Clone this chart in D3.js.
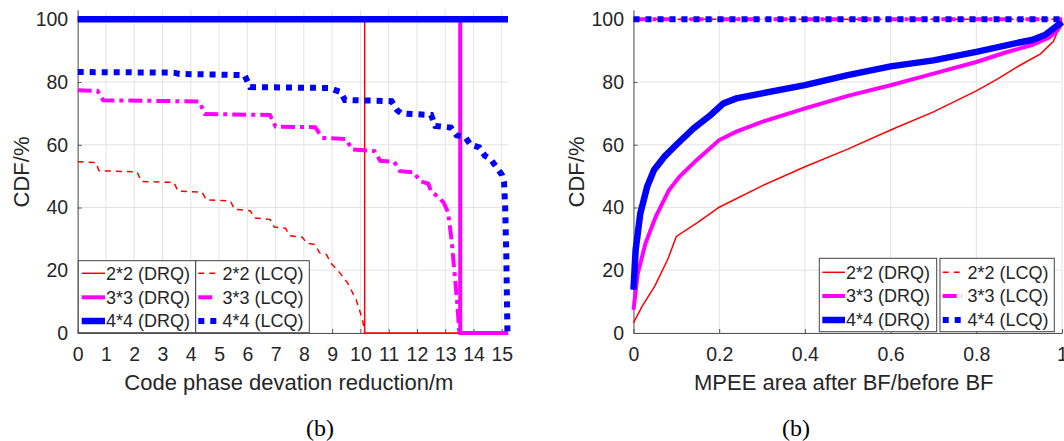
<!DOCTYPE html>
<html>
<head>
<meta charset="utf-8">
<script src="https://cdn.jsdelivr.net/npm/d3@7"></script>
<style>
  body { margin: 0; background: #fff; }
  svg { display: block; }
  text { font-family: "Liberation Sans", Arial, sans-serif; fill: #262626; }
</style>
</head>
<body>
<div id="chart"></div>
<script>
const W = 1064, H = 441;

// shared
const yTicks = [0, 20, 40, 60, 80, 100];
const legendLabels = ["2*2 (DRQ)", "3*3 (DRQ)", "4*4 (DRQ)", "2*2 (LCQ)", "3*3 (LCQ)", "4*4 (LCQ)"];

// left panel: code phase deviation reduction
const leftXTicks = [0, 1, 2, 3, 4, 5, 6, 7, 8, 9, 10, 11, 12, 13, 14, 15];
const cpDrq22X = [0, 10.15, 10.15, 15.22];
const cpDrq22Y = [100, 100, 0, 0];
const cpDrq33X = [0, 13.53, 13.53, 15.22];
const cpDrq33Y = [100, 100, 0, 0];
const cpDrq44X = [0, 15.22];
const cpDrq44Y = [100, 100];
const cpLcq22X = [0, 0.65, 0.75, 2.1, 2.25, 3.4, 3.55, 4.4, 4.55, 5.4, 5.55, 6.1, 6.25, 6.8, 6.95, 7.35, 7.5, 7.95, 8.1, 8.4, 8.55, 8.8, 8.95, 9.2, 9.55, 9.85, 10.0, 10.1, 10.15];
const cpLcq22Y = [54.6, 54.3, 51.7, 51.4, 48.3, 48.0, 45.2, 44.9, 42.4, 42.1, 39.4, 39.0, 36.7, 36.2, 33.8, 33.4, 31.0, 30.5, 28.6, 28.2, 25.6, 25.0, 22.3, 20.0, 15.9, 10.6, 6.4, 3, 0];
const cpLcq33X = [0, 0.7, 0.9, 4.3, 4.5, 6.8, 7.0, 8.4, 8.65, 9.5, 9.7, 10.5, 10.7, 11.2, 11.4, 11.9, 12.1, 12.4, 12.5, 12.8, 12.95, 13.1, 13.22, 13.32, 13.42, 13.5];
const cpLcq33Y = [77.4, 77.2, 74.2, 73.8, 69.8, 69.5, 65.8, 65.6, 62.2, 61.8, 58.5, 58.0, 54.9, 54.5, 51.6, 51.2, 48.4, 47.6, 45.2, 43.0, 41.5, 38.5, 30, 20, 10, 0];
const cpLcq44X = [0, 3.4, 3.6, 5.9, 6.1, 8.9, 9.3, 9.45, 11.1, 11.3, 11.45, 12.5, 12.65, 13.2, 13.4, 13.7, 13.9, 14.2, 14.4, 14.6, 14.8, 15.0, 15.08, 15.12, 15.16, 15.2];
const cpLcq44Y = [83.2, 83.0, 82.6, 82.2, 78.4, 78.1, 76.8, 74.3, 73.9, 71.0, 70.0, 69.5, 66.0, 65.5, 63.0, 62.5, 60.0, 59.2, 56.5, 55.5, 53.0, 50.5, 48.0, 40, 25, 0];

// right panel: MPEE area ratio
const rightXTicks = [0, 0.2, 0.4, 0.6, 0.8, 1];
const mpDrq22X = [0, 0.02, 0.05, 0.08, 0.1, 0.15, 0.2, 0.3, 0.4, 0.5, 0.6, 0.7, 0.8, 0.85, 0.9, 0.95, 0.98, 1.0];
const mpDrq22Y = [3.2, 8.5, 15, 23.5, 30.8, 35.3, 40.1, 46.9, 53, 58.6, 64.7, 70.5, 77.2, 81, 85.2, 89, 93, 99.5];
const mpDrq33X = [0, 0.01, 0.028, 0.052, 0.083, 0.107, 0.147, 0.2, 0.24, 0.3, 0.4, 0.5, 0.6, 0.7, 0.8, 0.87, 0.93, 0.97, 0.99, 1.0];
const mpDrq33Y = [7.4, 19, 28.6, 37.1, 45.6, 49.8, 55.1, 61.5, 64.2, 67.3, 71.6, 75.6, 79, 82.7, 86.4, 89.5, 91.8, 94.2, 96.5, 99];
const mpDrq44X = [0, 0.005, 0.016, 0.032, 0.048, 0.072, 0.1, 0.14, 0.18, 0.21, 0.24, 0.3, 0.4, 0.5, 0.6, 0.7, 0.8, 0.9, 0.93, 0.96, 1.0];
const mpDrq44Y = [13.8, 26.5, 38.2, 46.7, 52, 56.2, 60, 65.2, 69.5, 73.2, 74.8, 76.4, 79, 82.2, 85, 86.9, 89.6, 92.6, 93.4, 95, 99.1];
const mpLcqX = [0, 1];
const mpLcqY = [100, 100];

// line styles, same order as legendLabels
const styles = [
  { color: "#ff0000", width: 1.5, dash: null },
  { color: "#ff00ff", width: 4, dash: null },
  { color: "#0000ff", width: 6.5, dash: null },
  { color: "#ff0000", width: 1.5, dash: "6,5" },
  { color: "#ff00ff", width: 4, dash: "14,5,4,5" },
  { color: "#0000ff", width: 6, dash: "6,6" }
];

const svg = d3.select("#chart").append("svg")
  .attr("width", W)
  .attr("height", H);

function drawPanel(p) {
  const x = d3.scaleLinear().domain(p.xDomain).range(p.xRange);
  const y = d3.scaleLinear().domain([0, 103]).range([333, 9.9]);
  const g = svg.append("g");

  // grid
  g.selectAll("line.gx").data(p.xTicks).enter().append("line")
    .attr("x1", d => x(d)).attr("x2", d => x(d))
    .attr("y1", y(0)).attr("y2", y(103))
    .attr("stroke", "#e3e3e3").attr("stroke-width", 1);
  g.selectAll("line.gy").data(yTicks).enter().append("line")
    .attr("x1", x(p.xDomain[0])).attr("x2", x(p.xDomain[1]))
    .attr("y1", d => y(d)).attr("y2", d => y(d))
    .attr("stroke", "#e3e3e3").attr("stroke-width", 1);

  // axes
  const xAxis = d3.axisBottom(x).tickValues(p.xTicks)
    .tickFormat(d3.format("~g"))
    .tickSizeInner(-4).tickSizeOuter(0).tickPadding(14);
  const yAxis = d3.axisLeft(y).tickValues(yTicks)
    .tickSizeInner(-4).tickSizeOuter(0).tickPadding(9.5);

  const gx = g.append("g").attr("transform", "translate(0," + y(0) + ")").call(xAxis);
  const gy = g.append("g").attr("transform", "translate(" + x(0) + ",0)").call(yAxis);
  [gx, gy].forEach(a => {
    a.select(".domain").attr("stroke", "#555");
    a.selectAll(".tick line").attr("stroke", "#555");
    a.selectAll(".tick text").attr("font-size", "19.5px")
      .attr("font-family", "Liberation Sans, Arial, sans-serif").attr("fill", "#262626");
  });

  // series
  const line = d3.line().x(d => x(d[0])).y(d => y(d[1]));
  p.series.forEach((s, i) => {
    const st = styles[i];
    g.append("path")
      .datum(d3.zip(s[0], s[1]))
      .attr("d", line)
      .attr("fill", "none")
      .attr("stroke", st.color)
      .attr("stroke-width", st.width)
      .attr("stroke-dasharray", st.dash);
  });

  // legend: two boxes, DRQ column and LCQ column
  const L = p.legend;
  [0, 1].forEach(c => {
    g.append("rect")
      .attr("x", L.boxX[c][0]).attr("y", L.top)
      .attr("width", L.boxX[c][1] - L.boxX[c][0]).attr("height", L.bottom - L.top)
      .attr("fill", "#fff").attr("stroke", "#444").attr("stroke-width", 1);
    [0, 1, 2].forEach(r => {
      const i = c * 3 + r;
      const st = styles[i];
      g.append("line")
        .attr("x1", L.sampleX[c][0]).attr("x2", L.sampleX[c][1])
        .attr("y1", L.rowY[r]).attr("y2", L.rowY[r])
        .attr("stroke", st.color).attr("stroke-width", st.width)
        .attr("stroke-dasharray", st.dash);
      g.append("text")
        .attr("x", L.textX[c]).attr("y", L.rowY[r])
        .attr("dy", "0.35em")
        .attr("font-size", "18px")
        .text(legendLabels[i]);
    });
  });

  // labels
  g.append("text")
    .attr("x", (x(p.xDomain[0]) + x(p.xDomain[1])) / 2 + p.xLabelShift)
    .attr("y", 390)
    .attr("text-anchor", "middle")
    .attr("font-size", "22px")
    .text(p.xLabel);
  g.append("text")
    .attr("transform", "translate(" + p.yLabelX + ",172) rotate(-90)")
    .attr("text-anchor", "middle")
    .attr("dy", "0.35em")
    .attr("font-size", "22px")
    .text("CDF/%");
  g.append("text")
    .attr("x", p.captionX).attr("y", 436)
    .attr("text-anchor", "middle")
    .attr("font-size", "24px")
    .style("font-family", "'Liberation Serif', 'Times New Roman', serif")
    .style("fill", "#000")
    .text("(b)");
}

drawPanel({
  xDomain: [0, 15.22],
  xRange: [77.7, 508],
  xTicks: leftXTicks,
  xLabel: "Code phase devation reduction/m",
  xLabelShift: -4,
  yLabelX: 21,
  captionX: 320,
  series: [[cpDrq22X, cpDrq22Y], [cpDrq33X, cpDrq33Y], [cpDrq44X, cpDrq44Y],
           [cpLcq22X, cpLcq22Y], [cpLcq33X, cpLcq33Y], [cpLcq44X, cpLcq44Y]],
  legend: {
    boxX: [[78.3, 195.7], [195.7, 309.3]],
    top: 260.7, bottom: 332.7,
    sampleX: [[81.7, 105], [198.3, 217]],
    textX: [106, 222.5],
    rowY: [273.3, 297.3, 321]
  }
});

drawPanel({
  xDomain: [0, 1],
  xRange: [633.5, 1062],
  xTicks: rightXTicks,
  xLabel: "MPEE area after BF/before BF",
  xLabelShift: -4,
  yLabelX: 576.5,
  captionX: 796,
  series: [[mpDrq22X, mpDrq22Y], [mpDrq33X, mpDrq33Y], [mpDrq44X, mpDrq44Y],
           [mpLcqX, mpLcqY], [mpLcqX, mpLcqY], [mpLcqX, mpLcqY]],
  legend: {
    boxX: [[819.3, 936.7], [940, 1054.3]],
    top: 258.3, bottom: 331.7,
    sampleX: [[822.3, 845], [942.7, 962]],
    textX: [846, 967.5],
    rowY: [272.3, 296, 320]
  }
});
</script>
</body>
</html>
